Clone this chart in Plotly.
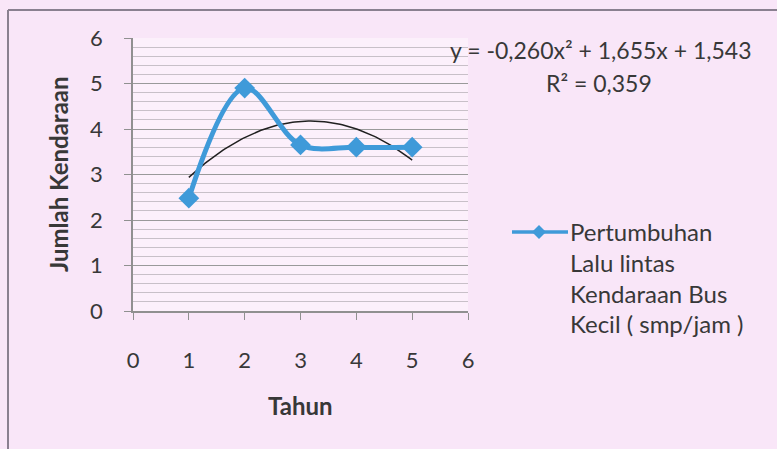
import numpy as np
import plotly.graph_objects as go

# Data
tahun = [1, 2, 3, 4, 5]
jumlah = [2.48, 4.9, 3.65, 3.6, 3.6]
trend_coeffs = [-0.260, 1.655, 1.543]  # y = a x^2 + b x + c (shown on chart)
x_ticks = [0, 1, 2, 3, 4, 5, 6]
y_ticks = [0, 1, 2, 3, 4, 5, 6]

eq_text = "y = -0,260x² + 1,655x + 1,543"
r2_text = "R² = 0,359"
legend_lines = ["Pertumbuhan", "Lalu lintas", "Kendaraan Bus", "Kecil ( smp/jam )"]

FONT = "Lato, 'Open Sans', sans-serif"
TXT = "#383838"
BLUE = "#3f9ad9"

trend_x = np.linspace(tahun[0], tahun[-1], 100)
trend_y = np.polyval(trend_coeffs, trend_x)

fig = go.Figure()
fig.add_trace(go.Scatter(
    x=trend_x, y=trend_y, mode="lines",
    line=dict(color="#202020", width=1.5), showlegend=False, hoverinfo="skip"))
fig.add_trace(go.Scatter(
    x=tahun, y=jumlah, mode="lines+markers", name=legend_lines[0],
    line=dict(color=BLUE, width=5, shape="spline", smoothing=1),
    marker=dict(symbol="diamond", size=16, color=BLUE), showlegend=False))

L, T, W, H = 133, 38, 335, 273

def px(x):
    return (x - L) / W

def py(y):
    return (T + H - y) / H

def ann(text, x, y, size, xanchor="center", angle=0):
    return dict(text=text, x=px(x), y=py(y), xref="paper", yref="paper",
                xanchor=xanchor, yanchor="middle", textangle=angle, showarrow=False,
                font=dict(size=size, color=TXT, family=FONT))

annotations = [
    ann(eq_text, 601, 50, 23),
    ann(r2_text, 599, 83, 23),
    ann("<b>Tahun</b>", 300, 405, 24),
    ann("<b>Jumlah Kendaraan</b>", 58, 174, 24, angle=-90),
]
for i, t in enumerate(legend_lines):
    annotations.append(ann(t, 568, 232 + 30.5 * i, 24, xanchor="left"))

# legend glyph
gx, gy, gw, gh = 539, 232, 7, 7
shapes = [
    dict(type="line", xref="paper", yref="paper", x0=px(8), x1=px(8), y0=py(10), y1=py(449),
         line=dict(color="#8a8090", width=2)),
    dict(type="line", xref="paper", yref="paper", x0=px(8), x1=px(777), y0=py(10), y1=py(10),
         line=dict(color="#8a8090", width=2)),
    dict(type="line", xref="paper", yref="paper", x0=px(512), x1=px(568), y0=py(gy), y1=py(gy),
         line=dict(color=BLUE, width=3.5)),
    dict(type="path", xref="paper", yref="paper",
         path=f"M {px(gx)},{py(gy-gh)} L {px(gx+gw)},{py(gy)} L {px(gx)},{py(gy+gh)} L {px(gx-gw)},{py(gy)} Z",
         fillcolor=BLUE, line=dict(color=BLUE, width=0)),
]

fig.update_layout(
    width=777, height=449,
    margin=dict(l=L, r=777 - L - W, t=T, b=449 - T - H),
    paper_bgcolor="#f9e6f8", plot_bgcolor="#fcf0fb",
    font=dict(family=FONT, color=TXT),
    showlegend=False,
    annotations=annotations, shapes=shapes,
    xaxis=dict(range=[0, 6], tickvals=x_ticks, showgrid=False, zeroline=False, automargin=False,
               showline=True, linecolor="#909090", linewidth=1.5,
               ticks="outside", ticklen=7, tickcolor="#909090",
               ticklabelstandoff=22, tickfont=dict(size=22, color=TXT, family=FONT)),
    yaxis=dict(range=[0, 6], tickvals=y_ticks, showgrid=True, gridcolor="#9a9a9a", gridwidth=1.2,
               zeroline=False, showline=True, linecolor="#909090", linewidth=1.5, automargin=False,
               ticks="outside", ticklen=7, tickcolor="#909090",
               ticklabelstandoff=17, tickfont=dict(size=22, color=TXT, family=FONT),
               minor=dict(dtick=0.2, showgrid=True, gridcolor="#c8c0c8", gridwidth=1)),
)

fig.write_html("out.html", config={"displayModeBar": False},
               post_script="document.body.style.margin='0';")
